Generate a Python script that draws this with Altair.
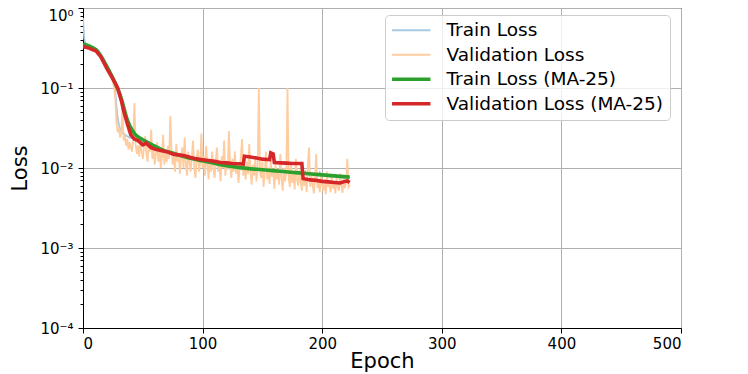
import altair as alt
import pandas as pd

# ---------------- data ----------------
train_loss = [
    0.75, 0.42, 0.36, 0.35, 0.345, 0.34, 0.335, 0.33, 0.325, 0.32,
    0.31, 0.305, 0.30, 0.29, 0.28, 0.265, 0.25, 0.235, 0.215, 0.20,
    0.185, 0.17, 0.16, 0.15, 0.14, 0.13, 0.115, 0.09, 0.058, 0.042,
    0.035, 0.031, 0.029, 0.028, 0.027, 0.026, 0.0255, 0.025, 0.0245, 0.024,
    0.0238, 0.0235, 0.023, 0.0228, 0.0225, 0.0222, 0.022, 0.0218, 0.0215, 0.021,
    0.0205, 0.020, 0.0197, 0.0203, 0.0192, 0.0188, 0.019, 0.0183, 0.0181, 0.0185,
    0.0178, 0.0176, 0.0179, 0.0171, 0.0169, 0.0172, 0.0165, 0.0163, 0.0166, 0.016,
    0.0158, 0.0161, 0.0155, 0.0153, 0.0157, 0.015, 0.0149, 0.0152, 0.0146, 0.0145,
    0.0147, 0.0142, 0.0141, 0.0144, 0.0138, 0.0137, 0.0139, 0.0134, 0.0133, 0.0136,
    0.0131, 0.013, 0.0133, 0.0128, 0.0127, 0.0129, 0.0125, 0.0124, 0.0127, 0.0122,
    0.0121, 0.0123, 0.0119, 0.0118, 0.0121, 0.0116, 0.0115, 0.0117, 0.0113, 0.0112,
    0.0115, 0.011, 0.0109, 0.0112, 0.0107, 0.0107, 0.0109, 0.0105, 0.0104, 0.0107,
    0.0103, 0.0102, 0.0105, 0.0101, 0.0100, 0.0103, 0.0099, 0.0099, 0.0101, 0.0098,
    0.0101, 0.0099, 0.0102, 0.0098, 0.0100, 0.0097, 0.0099, 0.0096, 0.0098, 0.0097,
    0.0095, 0.0098, 0.0096, 0.0094, 0.0101, 0.0095, 0.0093, 0.0096, 0.0094, 0.0095,
    0.0093, 0.0095, 0.0092, 0.0094, 0.0091, 0.0097, 0.0092, 0.0090, 0.0093, 0.0091,
    0.0090, 0.0092, 0.0089, 0.0091, 0.0088, 0.0090, 0.0094, 0.0089, 0.0087, 0.0089,
    0.0088, 0.0087, 0.0089, 0.0086, 0.0088, 0.0085, 0.0087, 0.0086, 0.0084, 0.0087,
    0.0085, 0.0087, 0.0084, 0.0086, 0.0083, 0.0085, 0.0090, 0.0083, 0.0084, 0.0082,
    0.0084, 0.0082, 0.0083, 0.0081, 0.0083, 0.0080, 0.0082, 0.0081, 0.0088, 0.0080,
    0.0081, 0.0079, 0.0081, 0.0080, 0.0078, 0.0080, 0.0079, 0.0077, 0.0079, 0.0078,
    0.0078, 0.0077, 0.0079, 0.0076, 0.0078, 0.0077, 0.0076, 0.0078, 0.0075, 0.0077,
    0.0076, 0.0075, 0.0077, 0.0076,
]

val_loss = [
    0.34, 0.33, 0.33, 0.32, 0.32, 0.31, 0.31, 0.30, 0.30, 0.29,
    0.29, 0.29, 0.28, 0.27, 0.26, 0.25, 0.23, 0.22, 0.20, 0.19,
    0.18, 0.17, 0.15, 0.14, 0.13, 0.12, 0.10, 0.075, 0.036, 0.028,
    0.032, 0.024, 0.027, 0.060, 0.022, 0.026, 0.019, 0.023, 0.017, 0.021,
    0.018, 0.016, 0.024, 0.065, 0.020, 0.015, 0.019, 0.014, 0.022, 0.016,
    0.013, 0.018, 0.025, 0.015, 0.012, 0.020, 0.016, 0.030, 0.013, 0.017,
    0.011, 0.015, 0.021, 0.012, 0.018, 0.010, 0.014, 0.026, 0.011, 0.016,
    0.012, 0.019, 0.013, 0.045, 0.017, 0.011, 0.014, 0.009, 0.020, 0.012,
    0.015, 0.0085, 0.013, 0.018, 0.010, 0.024, 0.011, 0.008, 0.016, 0.012,
    0.009, 0.014, 0.022, 0.010, 0.0075, 0.013, 0.017, 0.009, 0.012, 0.027,
    0.010, 0.014, 0.008, 0.019, 0.011, 0.0072, 0.013, 0.009, 0.016, 0.010,
    0.0075, 0.012, 0.018, 0.009, 0.011, 0.0068, 0.014, 0.010, 0.022, 0.008,
    0.012, 0.0095, 0.029, 0.011, 0.0075, 0.013, 0.009, 0.016, 0.0085, 0.011,
    0.0065, 0.010, 0.014, 0.023, 0.008, 0.011, 0.0072, 0.012, 0.0085, 0.020,
    0.009, 0.0062, 0.011, 0.008, 0.013, 0.0068, 0.010, 0.100, 0.009, 0.0075,
    0.012, 0.0058, 0.009, 0.016, 0.0072, 0.010, 0.0063, 0.013, 0.0078, 0.0095,
    0.0055, 0.011, 0.0072, 0.009, 0.0062, 0.015, 0.0075, 0.0052, 0.010, 0.0068,
    0.009, 0.100, 0.0072, 0.0058, 0.011, 0.0065, 0.0085, 0.0054, 0.013, 0.0070,
    0.0060, 0.0095, 0.0068, 0.0052, 0.0088, 0.0060, 0.0075, 0.0050, 0.011, 0.018,
    0.0058, 0.0082, 0.0062, 0.0048, 0.0075, 0.015, 0.0056, 0.0068, 0.0050, 0.0085,
    0.0060, 0.0052, 0.0072, 0.0047, 0.0090, 0.0058, 0.0065, 0.0050, 0.0080, 0.0055,
    0.0068, 0.0048, 0.0075, 0.0058, 0.0052, 0.0085, 0.0060, 0.0049, 0.0072, 0.0056,
    0.0065, 0.0130, 0.0058, 0.0062,
]

train_ma_epoch = [0, 5, 11, 15, 20, 26, 32, 37, 43, 48, 54, 60, 68, 74, 85,
                  101, 115, 131, 150, 165, 180, 200, 223]
train_ma = [0.355, 0.335, 0.30, 0.25, 0.185, 0.123, 0.074, 0.040, 0.027, 0.0235,
            0.021, 0.0188, 0.0165, 0.0155, 0.0138, 0.0122, 0.0110, 0.0101, 0.0095,
            0.0091, 0.0087, 0.0082, 0.0077]

val_ma_epoch = [0, 5, 11, 15, 20, 25, 29, 32, 34, 37, 40, 43, 46, 50, 53, 55, 57,
                60, 65, 70, 76, 80, 85, 90, 95, 100, 105, 110, 115, 120, 125, 130,
                134, 135, 140, 145, 150, 156, 157, 159, 160, 165, 170, 175, 183,
                184, 190, 195, 200, 205, 210, 215, 219, 221, 223]
val_ma = [0.33, 0.315, 0.29, 0.245, 0.175, 0.13, 0.10, 0.07, 0.052, 0.036,
          0.026, 0.023, 0.022, 0.0195, 0.0205, 0.019, 0.018, 0.0172, 0.0165, 0.016,
          0.0148, 0.0146, 0.0142, 0.0135, 0.0130, 0.0127, 0.0124, 0.0121, 0.0117, 0.0116,
          0.0114, 0.0113, 0.0112, 0.0140, 0.0137, 0.0133, 0.0129, 0.0127, 0.0155, 0.0150,
          0.0117, 0.0116, 0.0115, 0.0114, 0.0114, 0.0074, 0.0071, 0.0070, 0.0068, 0.0067,
          0.0066, 0.0065, 0.0068, 0.0069, 0.0066]

series_names = ["Train Loss", "Validation Loss", "Train Loss (MA-25)", "Validation Loss (MA-25)"]
series_colors = ["#a5c9e1", "#ffcc9f", "#2ca02c", "#d62728"]
series_widths = [1.8, 1.8, 3.6, 3.6]

x_ticks = [0, 100, 200, 300, 400, 500]
decades = [1e-4, 1e-3, 1e-2, 1e-1, 1.0]
y_ticks = decades + [round(k * d, 6) for d in [1e-4, 1e-3, 1e-2, 1e-1] for k in range(2, 10)]

# ---------------- table ----------------
rows = []
for i, v in enumerate(train_loss):
    rows.append({"epoch": i, "loss": v, "series": series_names[0], "w": series_widths[0]})
for i, v in enumerate(val_loss):
    rows.append({"epoch": i, "loss": v, "series": series_names[1], "w": series_widths[1]})
for e, v in zip(train_ma_epoch, train_ma):
    rows.append({"epoch": e, "loss": v, "series": series_names[2], "w": series_widths[2]})
for e, v in zip(val_ma_epoch, val_ma):
    rows.append({"epoch": e, "loss": v, "series": series_names[3], "w": series_widths[3]})
df = pd.DataFrame(rows)

FONT = "DejaVu Sans"
decade_test = ("datum.value == 1 || datum.value == 0.1 || datum.value == 0.01 || "
               "datum.value == 0.001 || datum.value == 0.0001")
label_expr = ("datum.value == 1 ? '10⁰' : datum.value == 0.1 ? '10⁻¹' : "
              "datum.value == 0.01 ? '10⁻²' : datum.value == 0.001 ? '10⁻³' : "
              "datum.value == 0.0001 ? '10⁻⁴' : ''")

x_enc = alt.X("epoch:Q",
              scale=alt.Scale(domain=[0, 500], nice=False),
              axis=alt.Axis(values=x_ticks, title="Epoch", labelFontSize=15,
                            labelPadding=3, titleFontSize=21, titleFontWeight="normal",
                            titleX=299, titleY=39, titleBaseline="alphabetic",
                            titleAlign="center"))
y_enc = alt.Y("loss:Q",
              scale=alt.Scale(type="log", domain=[1e-4, 1], nice=False),
              axis=alt.Axis(values=y_ticks, labelExpr=label_expr, labelOverlap=False,
                            title="Loss", labelFontSize=15, labelPadding=5,
                            titleFontSize=21, titleFontWeight="normal",
                            titleAngle=-90, titleX=-63, titleY=160,
                            titleBaseline="middle", titleAlign="center",
                            labelBaseline={"condition": {"test": "datum.value == 1", "value": "top"},
                                           "value": "middle"},
                            tickSize={"condition": {"test": decade_test, "value": 5}, "value": 3},
                            gridOpacity={"condition": {"test": decade_test, "value": 1}, "value": 0}))

sym_width_expr = ("datum.value == 'Train Loss (MA-25)' || datum.value == 'Validation Loss (MA-25)'"
                  " ? 3.3 : 1.8")

legend = alt.Legend(title=None, orient="none", legendX=302, legendY=7,
                    symbolType="M-2.4,0H2.4", symbolSize=256, labelFontSize=18.5,
                    labelFont=FONT, labelColor="black", labelLimit=400,
                    fillColor="rgba(255,255,255,0.8)", strokeColor="#cccccc",
                    cornerRadius=4, padding=6, rowPadding=5.5,
                    symbolOffset=11, labelOffset=26, symbolOpacity=1,
                    symbolStrokeWidth=alt.ExprRef(expr=sym_width_expr))

color = alt.Color("series:N", scale=alt.Scale(domain=series_names, range=series_colors),
                  legend=legend)

layers = []
for name in series_names:
    interp = "monotone" if name == "Train Loss (MA-25)" else "linear"
    layers.append(
        alt.Chart(df)
        .transform_filter(alt.datum.series == name)
        .mark_line(clip=True, interpolate=interp)
        .encode(x=x_enc, y=y_enc, color=color,
                strokeWidth=alt.StrokeWidth("w:Q", scale=None, legend=None),
                order="epoch:Q")
    )

chart = (
    alt.layer(*layers)
    .properties(width=598, height=320,
                autosize=alt.AutoSizeParams(type="none"),
                padding={"left": 75, "top": 0, "right": 40, "bottom": 46})
    .configure_view(stroke="black", strokeWidth=1)
    .configure_axis(labelFont=FONT, titleFont=FONT, labelColor="black",
                    titleColor="black", tickColor="black", tickWidth=1,
                    domainColor="black", domainWidth=1, grid=True,
                    gridColor="#b0b0b0", gridWidth=1)
)

chart.save("out.html", embed_options={"renderer": "svg", "actions": False})
